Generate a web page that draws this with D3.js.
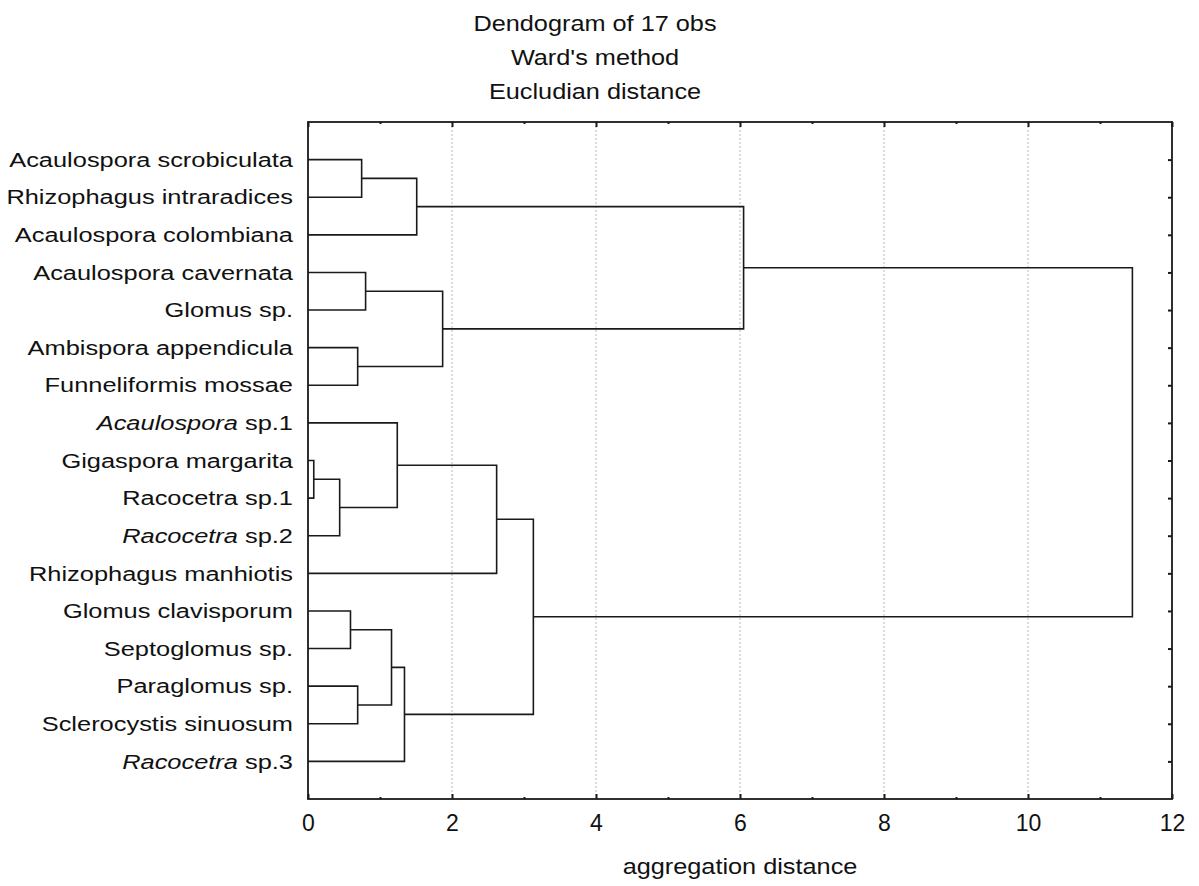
<!DOCTYPE html>
<html><head><meta charset="utf-8">
<script src="https://cdn.jsdelivr.net/npm/d3@7"></script>
<style>body{margin:0;background:#fff}svg{display:block}</style>
</head><body>
<svg id="chart" width="1199" height="886"></svg>
<script>
// Leaf labels (top to bottom); italicGenus = genus shown in italics
const leafNames = [
  "Acaulospora scrobiculata","Rhizophagus intraradices","Acaulospora colombiana",
  "Acaulospora cavernata","Glomus sp.","Ambispora appendicula","Funneliformis mossae",
  "Acaulospora sp.1","Gigaspora margarita","Racocetra sp.1","Racocetra sp.2",
  "Rhizophagus manhiotis","Glomus clavisporum","Septoglomus sp.","Paraglomus sp.",
  "Sclerocystis sinuosum","Racocetra sp.3"
];
const italicGenus = [null,null,null,null,null,null,null,"Acaulospora",null,null,"Racocetra",null,null,null,null,null,"Racocetra"];
// Merges: node ids 0..16 are leaves, new clusters get ids 17, 18, ...
const mergeA = [8, 17, 12, 5, 14, 0, 3, 19, 7, 24, 22, 23, 25, 29, 27, 31];
const mergeB = [9, 10, 13, 6, 15, 1, 4, 21, 18, 16, 2, 20, 11, 26, 28, 30];
const mergeH = [0.08, 0.44, 0.59, 0.69, 0.69, 0.745, 0.80, 1.16, 1.24, 1.34, 1.51, 1.87, 2.62, 3.13, 6.05, 11.45];
const xTicks = [0,2,4,6,8,10,12];
const xMinor = [1,3,5,7,9,11];
const titleLines = ["Dendogram of 17 obs","Ward's method","Eucludian distance"];
const xTitle = "aggregation distance";

const svg = d3.select("#chart");
const L=308, R=1172, T=122, B=799;
const x = d3.scaleLinear().domain([0,12]).range([L,R]);
const y = d3.scaleLinear().domain([0,18]).range([T,B]);
const FONT = "'Liberation Sans', Arial, sans-serif";
const SX = 1.27;

// gridlines
svg.append("g").selectAll("line").data(xTicks.filter(d=>d>0&&d<12)).join("line")
  .attr("x1",d=>x(d)).attr("x2",d=>x(d)).attr("y1",T).attr("y2",B)
  .attr("stroke","#b8b8b8").attr("stroke-width",1).attr("stroke-dasharray","2,2");

// node positions
const nodeH = leafNames.map(()=>0);
const nodeY = leafNames.map((_,i)=>i+1);
const dg = svg.append("g").attr("fill","none").attr("stroke","#1a1a1a").attr("stroke-width",1.6);
mergeA.forEach((a,i)=>{
  const b = mergeB[i], h = mergeH[i];
  const ya = nodeY[a], yb = nodeY[b];
  const p = d3.path();
  p.moveTo(x(nodeH[a]), y(ya)); p.lineTo(x(h), y(ya)); p.lineTo(x(h), y(yb)); p.lineTo(x(nodeH[b]), y(yb));
  dg.append("path").attr("d", p.toString());
  nodeH.push(h); nodeY.push((ya+yb)/2);
});

// axes
const axStyle = g => { g.select(".domain").remove(); g.selectAll("line").attr("stroke","#1a1a1a").attr("stroke-width",2); };
svg.append("g").attr("transform",`translate(0,${B})`)
  .call(d3.axisBottom(x).tickValues(xTicks).tickSize(-5).tickPadding(16).tickFormat(d3.format("d")))
  .call(axStyle)
  .call(g=>g.selectAll("text").attr("font-family",FONT).attr("font-size",23).attr("fill","#111"));
svg.append("g").attr("transform",`translate(0,${B})`)
  .call(d3.axisBottom(x).tickValues(xMinor).tickSize(-2).tickFormat(""))
  .call(axStyle);
svg.append("g").attr("transform",`translate(0,${T})`)
  .call(d3.axisTop(x).tickValues(xTicks).tickSize(-5).tickFormat("")).call(axStyle);
svg.append("g").attr("transform",`translate(0,${T})`)
  .call(d3.axisTop(x).tickValues(xMinor).tickSize(-2).tickFormat("")).call(axStyle);
svg.append("g").attr("transform",`translate(${R},0)`)
  .call(d3.axisRight(y).tickValues(d3.range(1,18)).tickSize(-4).tickFormat("")).call(axStyle);

// frame
svg.append("rect").attr("x",L).attr("y",T).attr("width",R-L).attr("height",B-T)
  .attr("fill","none").attr("stroke","#1a1a1a").attr("stroke-width",1.8);

// leaf labels
const lab = svg.append("g").selectAll("g").data(leafNames).join("g")
  .attr("transform",(d,i)=>`translate(293,${y(i+1)}) scale(${SX},1)`);
lab.each(function(d,i){
  const t = d3.select(this).append("text").attr("text-anchor","end").attr("dy","0.36em")
    .attr("font-family",FONT).attr("font-size",20).attr("fill","#111");
  const g = italicGenus[i];
  if(g){ t.append("tspan").attr("font-style","italic").text(g); t.append("tspan").text(d.slice(g.length)); }
  else t.text(d);
});

// title
svg.append("g").selectAll("text").data(titleLines).join("text")
  .attr("x",0).attr("y",0)
  .attr("transform",(d,i)=>`translate(595,${30.5+i*34}) scale(1.15,1)`)
  .attr("text-anchor","middle").attr("font-family",FONT).attr("font-size",22).attr("fill","#111").text(d=>d);

// x axis title
svg.append("text").attr("transform",`translate(${(L+R)/2},874) scale(1.15,1)`)
  .attr("text-anchor","middle").attr("font-family",FONT).attr("font-size",22).attr("fill","#111").text(xTitle);
</script>
</body></html>
